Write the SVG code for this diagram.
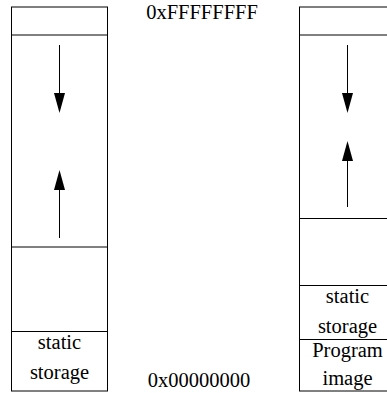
<svg xmlns="http://www.w3.org/2000/svg" width="387" height="393" viewBox="0 0 387 393">
<style>
.box{fill:#fff;stroke:#000;stroke-width:1}
.ln{stroke:#000;stroke-width:1;fill:none}
.ah{fill:#000;stroke:none}
.t{font-size:20.5px;fill:#000;text-anchor:middle}
</style>
<rect width="387" height="393" fill="#fff"/>
<g id="left-memory" font-family="'Liberation Serif', 'DejaVu Serif', serif">
<rect class="box" x="11.5" y="7" width="96" height="384"/>
<line class="ln" x1="11.5" y1="35" x2="107.5" y2="35"/>
<line class="ln" x1="11.5" y1="247" x2="107.5" y2="247"/>
<line class="ln" x1="11.5" y1="331.5" x2="107.5" y2="331.5"/>
<text class="t" x="59.5" y="348.5">static</text>
<text class="t" x="59.5" y="379">storage</text>
</g>
<g id="right-memory" font-family="'Liberation Serif', 'DejaVu Serif', serif">
<rect class="box" x="299.5" y="7" width="96" height="384"/>
<line class="ln" x1="299.5" y1="35" x2="395.5" y2="35"/>
<line class="ln" x1="299.5" y1="218.5" x2="395.5" y2="218.5"/>
<line class="ln" x1="299.5" y1="285.5" x2="395.5" y2="285.5"/>
<line class="ln" x1="299.5" y1="339.5" x2="395.5" y2="339.5"/>
<text class="t" x="347.5" y="302.5">static</text>
<text class="t" x="347.5" y="333">storage</text>
<text class="t" x="347.5" y="357">Program</text>
<text class="t" x="347.5" y="385">image</text>
</g>
<g id="labels" font-family="'Liberation Serif', 'DejaVu Serif', serif">
<text class="t" x="202" y="19">0xFFFFFFFF</text>
<text class="t" x="199" y="387">0x00000000</text>
</g>
<g id="connectors">
<line class="ln" x1="59.5" y1="45" x2="59.5" y2="95"/>
<polygon class="ah" points="54,93 65,93 59.5,113"/>
<line class="ln" x1="59.5" y1="238" x2="59.5" y2="188"/>
<polygon class="ah" points="54,190 65,190 59.5,170"/>
<line class="ln" x1="347.5" y1="45" x2="347.5" y2="95"/>
<polygon class="ah" points="342,93 353,93 347.5,113"/>
<line class="ln" x1="347.5" y1="207" x2="347.5" y2="159"/>
<polygon class="ah" points="342,161 353,161 347.5,141"/>
</g>
</svg>
